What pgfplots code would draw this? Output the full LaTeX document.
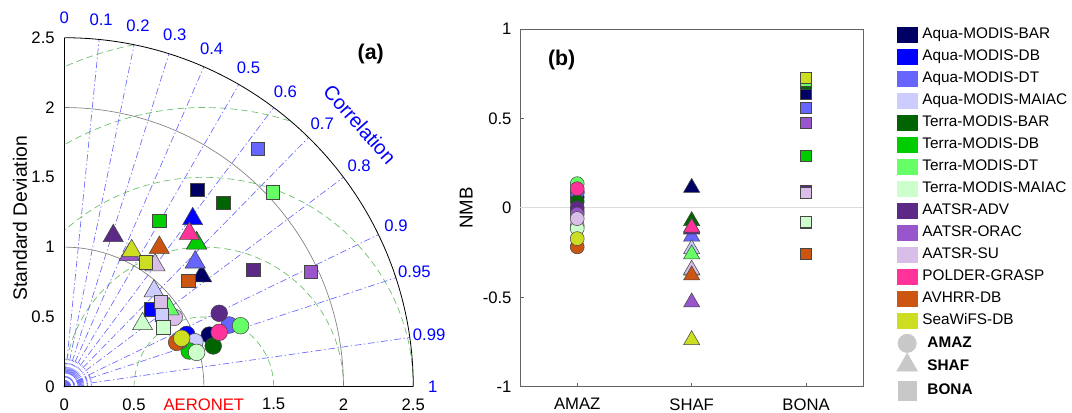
\documentclass[border=0pt]{standalone}
\usepackage{fontspec}
\setmainfont{Liberation Sans}
\usepackage{pgfplots}
\pgfplotsset{compat=1.18}
\definecolor{c1}{RGB}{0,0,100}
\definecolor{c2}{RGB}{0,0,255}
\definecolor{c3}{RGB}{102,102,255}
\definecolor{c4}{RGB}{204,204,255}
\definecolor{c5}{RGB}{0,100,0}
\definecolor{c6}{RGB}{0,204,0}
\definecolor{c7}{RGB}{102,255,102}
\definecolor{c8}{RGB}{204,255,204}
\definecolor{c9}{RGB}{92,42,134}
\definecolor{c10}{RGB}{153,85,204}
\definecolor{c11}{RGB}{216,190,232}
\definecolor{c12}{RGB}{255,51,153}
\definecolor{c13}{RGB}{204,85,17}
\definecolor{c14}{RGB}{204,221,34}
\definecolor{mk}{RGB}{70,70,70}
\definecolor{lgray}{RGB}{200,200,200}
\definecolor{rmsc}{RGB}{105,190,105}
\definecolor{corc}{RGB}{105,105,255}
\definecolor{axgray}{RGB}{100,100,100}
\pgfplotsset{
 Ca/.style={only marks, forget plot, mark=*, mark size=6.25pt, mark options={fill=#1, draw=mk, line width=0.4pt, solid}},
 Ta/.style={only marks, forget plot, mark=triangle*, mark size=8.7pt, mark options={fill=#1, draw=mk, line width=0.4pt, solid}},
 Sa/.style={only marks, forget plot, mark=square*, mark size=5pt, mark options={fill=#1, draw=mk, line width=0.4pt, solid}},
 Cb/.style={only marks, forget plot, mark=*, mark size=5.25pt, mark options={fill=#1, draw=mk, line width=0.4pt, solid}},
 Tb/.style={only marks, forget plot, mark=triangle*, mark size=7pt, mark options={fill=#1, draw=mk, line width=0.4pt, solid}},
 Sb/.style={only marks, forget plot, mark=square*, mark size=4.1pt, mark options={fill=#1, draw=mk, line width=0.4pt, solid}},
 patch/.style={legend image code/.code={\fill[#1] (0pt,-5.6pt) rectangle (15pt,5.6pt);}},
}
\begin{document}
\begin{tikzpicture}
\useasboundingbox (0,0) rectangle (804pt,309.75pt);
% ---------- Taylor diagram background ----------
\begin{scope}[shift={(48.2pt,19.7pt)}]
 \begin{scope}
  \clip (0pt,0pt) -- (261.75pt,0pt) arc[start angle=0,end angle=90,radius=261.75pt] -- cycle;
  \foreach \r in {52.35,104.7,157.05,209.4,261.75}
   \draw[rmsc, dash pattern=on 5pt off 3pt, line width=0.5pt] (104.7pt,0pt) circle[radius=\r pt];
 \end{scope}
 \foreach \a in {84.261,78.463,72.542,66.422,60,53.130,45.573,36.870,25.842,18.195,8.1096}
  \draw[corc, dash pattern=on 5pt off 2pt on 1pt off 2pt, line width=0.5pt] (0pt,0pt) -- (\a:261.75pt);
 \foreach \a in {87.13,81.37,75.52,69.51,63.26,56.63,49.46,41.41,31.79,24.49,23.07,21.57,19.95,16.26,14.07,11.48,5,3}
  \draw[corc, dash pattern=on 5pt off 2pt on 1pt off 2pt, line width=0.5pt] (0pt,0pt) -- (\a:21pt);
 \draw[gray, line width=0.5pt] (104.7pt,0pt) arc[start angle=0,end angle=90,radius=104.7pt];
 \draw[gray, line width=0.5pt] (209.4pt,0pt) arc[start angle=0,end angle=90,radius=209.4pt];
 \draw[black, line width=0.6pt] (261.75pt,0pt) arc[start angle=0,end angle=90,radius=261.75pt];
 \begin{scope}[every node/.style={text=blue, font=\fontsize{12.5}{14}\selectfont, inner sep=0pt}]
  \node at (90:276.4pt) {0};
  \node at (84.261:276.4pt) {0.1};
  \node at (78.463:276.4pt) {0.2};
  \node at (72.542:276.4pt) {0.3};
  \node at (66.422:276.4pt) {0.4};
  \node at (60:276.4pt) {0.5};
  \node at (53.130:276.4pt) {0.6};
  \node at (45.573:276.4pt) {0.7};
  \node at (36.870:276.4pt) {0.8};
  \node at (25.842:276.4pt) {0.9};
  \node at (18.195:276.4pt) {0.95};
  \node at (8.1096:276.4pt) {0.99};
  \node at (0:276.4pt) {1};
 \end{scope}
 \node[text=blue, font=\fontsize{15}{17}\selectfont, rotate=-48.4, inner sep=0pt] at (41.6:296.5pt) {Correlation};
\end{scope}
% ---------- (a) Taylor diagram ----------
\begin{axis}[
 at={(48.2pt,19.7pt)}, anchor=south west,
 x=104.7pt, y=104.7pt, xmin=0, xmax=2.5, ymin=0, ymax=2.5,
 axis lines=left, axis line style={-, line width=0.6pt},
 clip=false,
 xtick={0,0.5,1,1.5,2,2.5}, ytick={0,0.5,1,1.5,2,2.5},
 xticklabels={0,0.5,\textcolor{red}{AERONET},1.5,2,2.5},
 yticklabels={0,0.5,1,1.5,2,2.5},
 major tick length=0pt,
 tick label style={font=\fontsize{12.5}{14}\selectfont},
 xticklabel style={anchor=north, inner sep=0pt, yshift=-8.6pt},
 yticklabel style={anchor=east, inner sep=0pt, xshift=-7pt},
 ylabel={Standard Deviation},
 ylabel style={font=\fontsize{14.5}{16}\selectfont, at={(axis description cs:-0.127,0.483)}, anchor=center, rotate=0},
]
% AMAZ (circles)
\addplot[Ca=c1] coordinates {(1.039,0.370)};
\addplot[Ca=c2] coordinates {(0.877,0.375)};
\addplot[Ca=c3] coordinates {(1.182,0.442)};
\addplot[Ca=c4] coordinates {(0.936,0.322)};
\addplot[Ca=c5] coordinates {(1.067,0.292)};
\addplot[Ca=c6] coordinates {(0.895,0.256)};
\addplot[Ca=c7] coordinates {(1.263,0.437)};
\addplot[Ca=c8] coordinates {(0.948,0.246)};
\addplot[Ca=c9] coordinates {(1.110,0.526)};
\addplot[Ca=c10] coordinates {(0.830,0.330)};
\addplot[Ca=c11] coordinates {(0.788,0.497)};
\addplot[Ca=c12] coordinates {(1.110,0.390)};
\addplot[Ca=c13] coordinates {(0.805,0.318)};
\addplot[Ca=c14] coordinates {(0.841,0.347)};
% SHAF (triangles)
\addplot[Ta=c1] coordinates {(0.984,0.793)};
\addplot[Ta=c2] coordinates {(0.920,1.202)};
\addplot[Ta=c3] coordinates {(0.938,0.892)};
\addplot[Ta=c4] coordinates {(0.643,0.685)};
\addplot[Ta=c5] coordinates {(0.948,1.030)};
\addplot[Ta=c6] coordinates {(0.948,1.027)};
\addplot[Ta=c7] coordinates {(0.750,0.557)};
\addplot[Ta=c8] coordinates {(0.561,0.450)};
\addplot[Ta=c9] coordinates {(0.351,1.081)};
\addplot[Ta=c10] coordinates {(0.465,0.945)};
\addplot[Ta=c11] coordinates {(0.650,0.872)};
\addplot[Ta=c12] coordinates {(0.896,1.097)};
\addplot[Ta=c13] coordinates {(0.681,0.997)};
\addplot[Ta=c14] coordinates {(0.483,0.973)};
% BONA (squares)
\addplot[Sa=c1] coordinates {(0.953,1.409)};
\addplot[Sa=c2] coordinates {(0.619,0.554)};
\addplot[Sa=c3] coordinates {(1.385,1.703)};
\addplot[Sa=c4] coordinates {(0.700,0.514)};
\addplot[Sa=c5] coordinates {(1.139,1.318)};
\addplot[Sa=c6] coordinates {(0.681,1.189)};
\addplot[Sa=c7] coordinates {(1.493,1.393)};
\addplot[Sa=c8] coordinates {(0.709,0.425)};
\addplot[Sa=c9] coordinates {(1.354,0.836)};
\addplot[Sa=c10] coordinates {(1.767,0.824)};
\addplot[Sa=c11] coordinates {(0.693,0.609)};
\addplot[Sa=c13] coordinates {(0.888,0.757)};
\addplot[Sa=c14] coordinates {(0.585,0.891)};
\node[font=\bfseries\fontsize{16}{18}\selectfont] at (axis cs:2.195,2.381) {(a)};
\end{axis}
% ---------- (b) NMB ----------
\begin{axis}[
 at={(390pt,19.7pt)}, anchor=south west,
 width=257.5pt, height=268.3pt, scale only axis,
 xmin=0.5, xmax=3.5, ymin=-1, ymax=1,
 xtick={1,2,3}, xticklabels={AMAZ,SHAF,BONA},
 ytick={-1,-0.5,0,0.5,1}, yticklabels={-1,-0.5,0,0.5,1},
 tick pos=left, tick align=inside, major tick length=3pt,
 axis line style={draw=axgray, line width=0.6pt},
 tick style={draw=axgray, line width=0.6pt},
 tick label style={font=\fontsize{12.5}{14}\selectfont},
 xticklabel style={anchor=north, inner sep=0pt, yshift=-8.6pt},
 yticklabel style={anchor=east, inner sep=0pt, xshift=-6.2pt},
 ylabel={NMB},
 ylabel style={font=\fontsize{14}{16}\selectfont, at={(axis description cs:-0.157,0.5)}, anchor=center},
 clip=false,
 legend cell align=left,
 legend style={at={(axis description cs:1.097,1.007)}, anchor=north west, draw=none, fill=none,
   inner sep=0pt, row sep=4.9pt, column sep=0pt,
   font=\fontsize{11.5}{13}\selectfont,
   nodes={inner xsep=3.75pt, inner ysep=0pt, text height=8.5pt, text depth=2.75pt}},
]
\addplot[forget plot, color={rgb,255:red,220;green,220;blue,220}, line width=0.6pt] coordinates {(0.5,0) (3.5,0)};
% AMAZ
\addplot[Cb=c1] coordinates {(1,0.060)};
\addplot[Cb=c2] coordinates {(1,0.090)};
\addplot[Cb=c3] coordinates {(1,0.085)};
\addplot[Cb=c4] coordinates {(1,-0.100)};
\addplot[Cb=c5] coordinates {(1,0.035)};
\addplot[Cb=c6] coordinates {(1,-0.020)};
\addplot[Cb=c7] coordinates {(1,0.135)};
\addplot[Cb=c8] coordinates {(1,-0.115)};
\addplot[Cb=c9] coordinates {(1,0.000)};
\addplot[Cb=c10] coordinates {(1,-0.035)};
\addplot[Cb=c11] coordinates {(1,-0.060)};
\addplot[Cb=c12] coordinates {(1,0.107)};
\addplot[Cb=c13] coordinates {(1,-0.218)};
\addplot[Cb=c14] coordinates {(1,-0.172)};
% SHAF
\addplot[Tb=c1] coordinates {(2,0.113)};
\addplot[Tb=c2] coordinates {(2,-0.110)};
\addplot[Tb=c3] coordinates {(2,-0.160)};
\addplot[Tb=c4] coordinates {(2,-0.230)};
\addplot[Tb=c5] coordinates {(2,-0.073)};
\addplot[Tb=c6] coordinates {(2,-0.115)};
\addplot[Tb=c7] coordinates {(2,-0.259)};
\addplot[Tb=c8] coordinates {(2,-0.350)};
\addplot[Tb=c9] coordinates {(2,-0.120)};
\addplot[Tb=c10] coordinates {(2,-0.528)};
\addplot[Tb=c11] coordinates {(2,-0.345)};
\addplot[Tb=c12] coordinates {(2,-0.110)};
\addplot[Tb=c13] coordinates {(2,-0.377)};
\addplot[Tb=c14] coordinates {(2,-0.739)};
% BONA
\addplot[Sb=c1] coordinates {(3,0.636)};
\addplot[Sb=c2] coordinates {(3,0.700)};
\addplot[Sb=c3] coordinates {(3,0.560)};
\addplot[Sb=c4] coordinates {(3,-0.085)};
\addplot[Sb=c5] coordinates {(3,0.692)};
\addplot[Sb=c6] coordinates {(3,0.293)};
\addplot[Sb=c7] coordinates {(3,0.710)};
\addplot[Sb=c8] coordinates {(3,-0.077)};
\addplot[Sb=c9] coordinates {(3,0.097)};
\addplot[Sb=c10] coordinates {(3,0.474)};
\addplot[Sb=c11] coordinates {(3,0.083)};
\addplot[Sb=c13] coordinates {(3,-0.258)};
\addplot[Sb=c14] coordinates {(3,0.725)};
\node[font=\bfseries\fontsize{16}{18}\selectfont] at (axis cs:0.864,0.827) {(b)};
% legend
\addlegendimage{patch=c1}\addlegendentry{Aqua-MODIS-BAR}
\addlegendimage{patch=c2}\addlegendentry{Aqua-MODIS-DB}
\addlegendimage{patch=c3}\addlegendentry{Aqua-MODIS-DT}
\addlegendimage{patch=c4}\addlegendentry{Aqua-MODIS-MAIAC}
\addlegendimage{patch=c5}\addlegendentry{Terra-MODIS-BAR}
\addlegendimage{patch=c6}\addlegendentry{Terra-MODIS-DB}
\addlegendimage{patch=c7}\addlegendentry{Terra-MODIS-DT}
\addlegendimage{patch=c8}\addlegendentry{Terra-MODIS-MAIAC}
\addlegendimage{patch=c9}\addlegendentry{AATSR-ADV}
\addlegendimage{patch=c10}\addlegendentry{AATSR-ORAC}
\addlegendimage{patch=c11}\addlegendentry{AATSR-SU}
\addlegendimage{patch=c12}\addlegendentry{POLDER-GRASP}
\addlegendimage{patch=c13}\addlegendentry{AVHRR-DB}
\addlegendimage{patch=c14}\addlegendentry{SeaWiFS-DB}
\addlegendimage{legend image code/.code={\fill[opacity=0] (0pt,-6.25pt) rectangle (15pt,6.25pt); \fill[lgray,overlay] (7.5pt,0pt) circle[radius=6.9pt];}}\addlegendentry{\hspace*{3.75pt}\textbf{AMAZ}}
\addlegendimage{legend image code/.code={\fill[opacity=0] (0pt,-6.25pt) rectangle (15pt,6.25pt); \fill[lgray,overlay] (7.5pt,1.5pt) ++(90:8.9pt) -- ++(240:15.4pt) -- ++(0:15.4pt) -- cycle;}}\addlegendentry{\hspace*{3.75pt}\textbf{SHAF}}
\addlegendimage{legend image code/.code={\fill[opacity=0] (0pt,-6.25pt) rectangle (15pt,6.25pt); \fill[lgray,overlay] (0.6pt,-6.9pt) rectangle (14.4pt,6.9pt);}}\addlegendentry{\hspace*{3.75pt}\textbf{BONA}}
\end{axis}
\end{tikzpicture}
\end{document}
